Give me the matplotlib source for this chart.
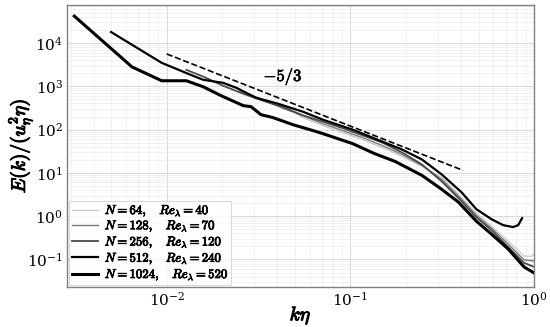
import matplotlib
matplotlib.use("Agg")
from matplotlib import pyplot as plt
from matplotlib import patheffects as pe

plt.rcParams["mathtext.fontset"] = "cm"
plt.rcParams["font.family"] = "serif"
plt.rcParams["font.serif"] = ["DejaVu Serif"]

# spectra: k*eta and E(k)/(u_eta^2 eta)
k_64 = [0.045, 0.055, 0.0706, 0.0905, 0.116, 0.149, 0.191, 0.245, 0.314, 0.403,
        0.485, 0.586, 0.723, 0.883, 0.964, 1.0]
e_64 = [330, 189, 124, 85.3, 58.9, 38.5, 23.9, 14.1, 7.88, 2.73,
        1.17, 0.589, 0.266, 0.120, 0.118, 0.134]

k_128 = [0.0251, 0.0334, 0.0429, 0.055, 0.0706, 0.0905, 0.116, 0.149, 0.191, 0.245,
         0.314, 0.403, 0.485, 0.586, 0.723, 0.883, 1.0]
e_128 = [788, 489, 310, 210, 137, 94.8, 65.5, 42.8, 26.6, 14.9,
         7.10, 2.46, 1.05, 0.530, 0.227, 0.0975, 0.0925]

k_256 = [0.0128, 0.0159, 0.0203, 0.0261, 0.0334, 0.0429, 0.055, 0.0706, 0.0905, 0.116,
         0.149, 0.191, 0.245, 0.314, 0.403, 0.485, 0.586, 0.723, 0.883, 1.0]
e_256 = [2395, 1653, 1027, 672, 464, 330, 214, 153, 108, 74,
         50.2, 29.6, 15.7, 6.38, 2.21, 0.948, 0.477, 0.194, 0.0832, 0.0673]

k_512 = [0.00498, 0.0094, 0.0135, 0.0158, 0.0203, 0.0239, 0.0306, 0.0403, 0.0551, 0.0706,
         0.1026, 0.149, 0.191, 0.245, 0.314, 0.403, 0.485, 0.586, 0.679, 0.769, 0.820, 0.861]
e_512 = [17900, 3470, 1840, 1410, 1200, 924, 544, 396, 259, 170,
         100, 53, 34.7, 20.4, 9.24, 3.56, 1.45, 0.853, 0.62, 0.56, 0.62, 0.90]

k_1024 = [0.00314, 0.00647, 0.0094, 0.0128, 0.0158, 0.0198, 0.0261, 0.0288, 0.0326, 0.0379,
          0.0486, 0.060, 0.0706, 0.085, 0.1026, 0.135, 0.175, 0.245, 0.314, 0.388,
          0.485, 0.586, 0.723, 0.883, 1.0]
e_1024 = [41800, 2800, 1340, 1340, 975, 605, 357, 338, 221, 189,
          130, 100, 81, 62, 47.6, 28, 18.4, 8.77, 4.18, 2.10,
          0.767, 0.386, 0.174, 0.067, 0.049]

# -5/3 reference line
k_ref = [0.01, 0.41]
e_ref = [2.59 * k ** (-5.0 / 3.0) for k in k_ref]

x_ticks = [1e-2, 1e-1, 1e0]
y_ticks = [1e-1, 1e0, 1e1, 1e2, 1e3, 1e4]

labels = [r"$N = 64,\quad Re_\lambda = 40$",
          r"$N = 128,\quad Re_\lambda = 70$",
          r"$N = 256,\quad Re_\lambda = 120$",
          r"$N = 512,\quad Re_\lambda = 240$",
          r"$N = 1024,\quad Re_\lambda = 520$"]

# fake bold for the computer-modern text
bold = [pe.withStroke(linewidth=0.8, foreground="black")]

fig = plt.figure(figsize=(5.5, 3.27), dpi=100)
ax = fig.add_axes([0.122, 0.122, 0.849, 0.864])

ax.plot(k_64, e_64, color="#c8c8c8", lw=0.9, label=labels[0])
ax.plot(k_128, e_128, color="#7a7a7a", lw=1.0, label=labels[1])
ax.plot(k_256, e_256, color="#4a4a4a", lw=1.3, label=labels[2])
ax.plot(k_512, e_512, color="black", lw=1.6, label=labels[3])
ax.plot(k_1024, e_1024, color="black", lw=2.2, label=labels[4])
ax.plot(k_ref, e_ref, color="black", lw=1.2, ls="--")

ax.text(0.043, 1650, r"$-5/3$", fontsize=12, ha="center", va="center",
        path_effects=[pe.withStroke(linewidth=0.5, foreground="black")])

ax.set_xscale("log")
ax.set_yscale("log")
ax.set_xlim(0.00287, 1.0)
ax.set_ylim(0.023, 7.7e4)
ax.set_xticks(x_ticks)
ax.set_yticks(y_ticks)

ax.grid(True, which="major", color="#d8d8d8", lw=0.7)
ax.grid(True, which="minor", color="#ebebeb", lw=0.5)
ax.set_axisbelow(True)
for s in ax.spines.values():
    s.set_color("#808080")
    s.set_linewidth(1.0)
ax.tick_params(which="both", length=0, labelsize=11, pad=3)

ax.set_xlabel(r"$k\eta$", fontsize=14, path_effects=bold, va="center")
ax.set_ylabel(r"$E(k)/(u_\eta^2\eta)$", fontsize=14, path_effects=bold, va="center")
ax.xaxis.set_label_coords(0.5, -0.1)
ax.yaxis.set_label_coords(-0.1, 0.5)

leg = ax.legend(loc="lower left", fontsize=9.2, frameon=True, fancybox=False,
                borderaxespad=0.15, handlelength=2.1, labelspacing=0.0,
                borderpad=0.2, handletextpad=0.5)
leg.get_frame().set_edgecolor("#d0d0d0")
leg.get_frame().set_linewidth(0.8)
for t in leg.get_texts():
    t.set_path_effects([pe.withStroke(linewidth=0.6, foreground="black")])

fig.savefig("out.png", dpi=100)
